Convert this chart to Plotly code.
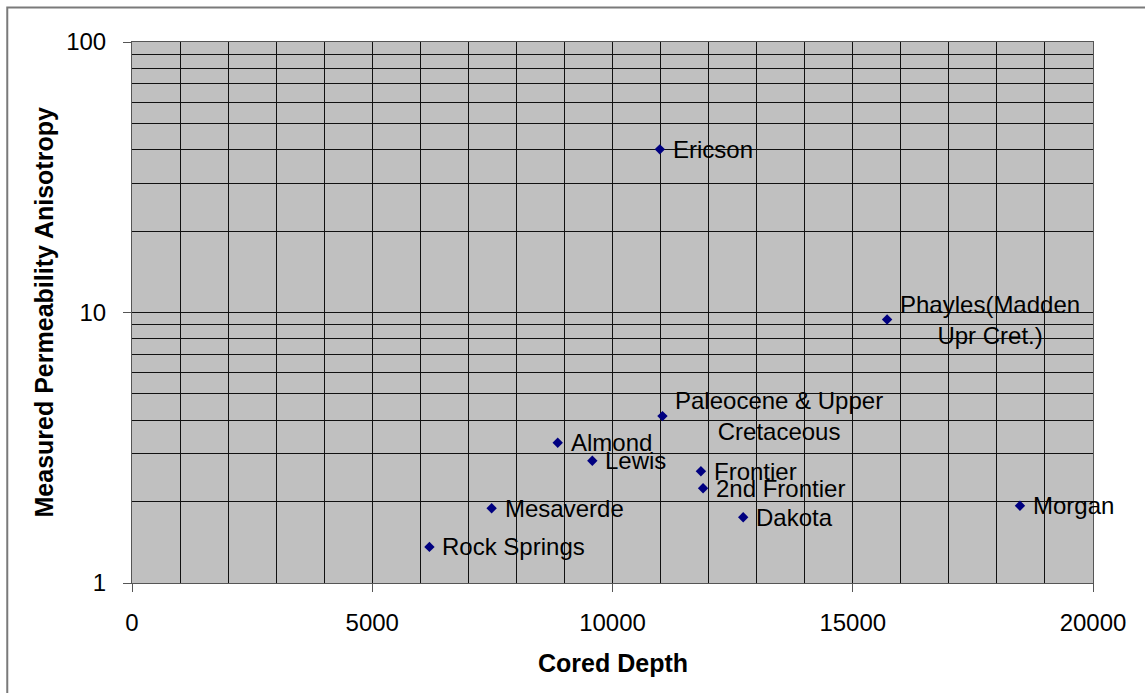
import math
import plotly.graph_objects as go

names = ["Rock Springs", "Mesaverde", "Almond", "Lewis", "Paleocene & Upper<br>Cretaceous",
         "Frontier", "2nd Frontier", "Dakota", "Ericson", "Phayles(Madden<br>Upr Cret.)", "Morgan"]
depth = [6190, 7485, 8860, 9580, 11040, 11840, 11885, 12720, 10985, 15715, 18480]
anisotropy = [1.36, 1.89, 3.30, 2.83, 4.14, 2.59, 2.24, 1.75, 40.1, 9.42, 1.93]

x_ticks = [0, 5000, 10000, 15000, 20000]
y_ticks = [1, 10, 100]
y_minor = [2, 3, 4, 5, 6, 7, 8, 9, 20, 30, 40, 50, 60, 70, 80, 90]

FONT = "Liberation Sans, Arial, sans-serif"
LBL = 24

fig = go.Figure()
fig.add_trace(go.Scatter(
    x=depth, y=anisotropy, mode="markers",
    marker=dict(symbol="diamond", size=8, color="#000080"),
    hoverinfo="x+y", showlegend=False,
))

for n, xv, yv in zip(names, depth, anisotropy):
    fig.add_annotation(x=xv, y=math.log10(yv), yref="y", xref="x", text=n, showarrow=False,
                       xanchor="left", yanchor="middle", align="center", xshift=11,
                       font=dict(family=FONT, size=LBL, color="black"))

fig.add_annotation(x=0.5, y=-0.147, xref="paper", yref="paper", text="<b>Cored Depth</b>",
                   showarrow=False, xanchor="center", yanchor="middle",
                   font=dict(family=FONT, size=25, color="black"))
fig.add_annotation(x=-0.0916, y=0.5, xref="paper", yref="paper",
                   text="<b>Measured Permeability Anisotropy</b>", textangle=-90,
                   showarrow=False, xanchor="center", yanchor="middle",
                   font=dict(family=FONT, size=25, color="black"))

fig.add_shape(type="rect", xref="paper", yref="paper", x0=-0.1298, x1=1.3, y0=-0.4, y1=1.0637,
              line=dict(color="#7a7a7a", width=2), fillcolor="rgba(0,0,0,0)", layer="above")

fig.update_layout(
    width=1145, height=693,
    margin=dict(l=132, r=52, t=41.5, b=110),
    paper_bgcolor="white", plot_bgcolor="#C0C0C0",
    font=dict(family=FONT, size=LBL, color="black"),
)
fig.update_xaxes(
    range=[0, 20000], tickvals=x_ticks, ticktext=[str(v) for v in x_ticks],
    showgrid=True, gridcolor="#111111", gridwidth=1,
    minor=dict(dtick=1000, showgrid=True, gridcolor="#111111", gridwidth=1),
    ticks="outside", ticklen=8, tickcolor="#555555", ticklabelstandoff=10,
    showline=True, linecolor="#555555", linewidth=1, mirror=True, zeroline=False,
    tickfont=dict(family=FONT, size=LBL),
)
fig.update_yaxes(
    type="log", range=[0, 2], tickvals=y_ticks, ticktext=[str(v) for v in y_ticks],
    showgrid=True, gridcolor="#111111", gridwidth=1,
    minor=dict(tickvals=y_minor, showgrid=True, gridcolor="#111111", gridwidth=1, ticks=""),
    ticks="outside", ticklen=8, tickcolor="#555555", ticklabelstandoff=12,
    showline=True, linecolor="#555555", linewidth=1, mirror=True, zeroline=False,
    tickfont=dict(family=FONT, size=LBL),
)

fig.write_html("out.html")
